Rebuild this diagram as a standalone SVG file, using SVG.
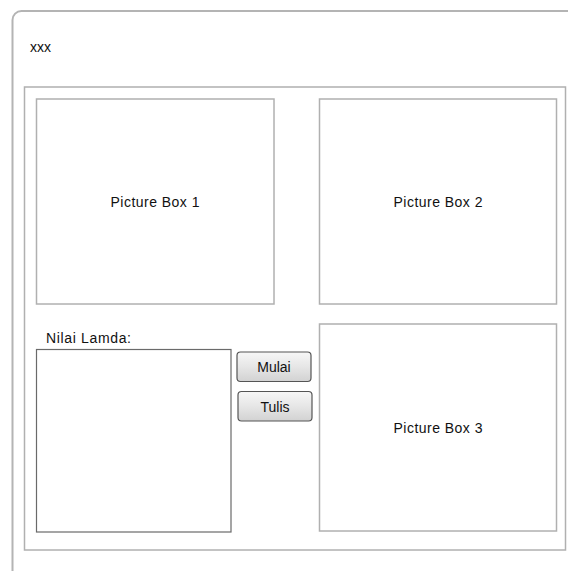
<svg xmlns="http://www.w3.org/2000/svg" width="568" height="571" viewBox="0 0 568 571">
  <defs>
    <linearGradient id="btnFill" x1="0" y1="0" x2="0" y2="1">
      <stop offset="0" stop-color="#f7f7f7"/>
      <stop offset="0.5" stop-color="#e6e6e6"/>
      <stop offset="1" stop-color="#d2d2d2"/>
    </linearGradient>
  </defs>
  <style>
    text { font-family: "Liberation Sans", Arial, sans-serif; font-size: 14px; fill: #111; }
    .mid { text-anchor: middle; }
    .frame { fill: #fff; stroke: #b4b4b4; stroke-width: 2; }
    .box { fill: #fff; stroke: #b0b0b0; stroke-width: 1.5; }
    .field { fill: #fff; stroke: #6a6a6a; stroke-width: 1.2; }
    .btn { fill: url(#btnFill); stroke: #555; stroke-width: 1.2; }
  </style>
  <rect width="568" height="571" fill="#fff"/>

  <!-- window -->
  <g id="window">
    <rect class="frame" x="12.5" y="11" width="580" height="590" rx="9"/>
    <text x="30" y="52">xxx</text>
  </g>

  <!-- content panel -->
  <g id="panel">
    <rect class="box" x="24.5" y="87" width="541" height="463"/>
  </g>

  <g id="picture-box-1">
    <rect class="box" x="36.5" y="99" width="237.5" height="205"/>
    <text class="mid" x="155" y="207" textLength="89">Picture Box 1</text>
  </g>

  <g id="picture-box-2">
    <rect class="box" x="319.5" y="99" width="237" height="205"/>
    <text class="mid" x="438" y="207" textLength="89">Picture Box 2</text>
  </g>

  <g id="picture-box-3">
    <rect class="box" x="319.5" y="324" width="237" height="207"/>
    <text class="mid" x="438" y="433" textLength="89">Picture Box 3</text>
  </g>

  <g id="lamda-input">
    <text x="46" y="343" textLength="85">Nilai Lamda:</text>
    <rect class="field" x="36.5" y="349.5" width="194.5" height="182.5"/>
  </g>

  <g id="btn-mulai">
    <rect class="btn" x="237" y="352" width="74" height="29.5" rx="3.5"/>
    <text class="mid" x="274" y="372">Mulai</text>
  </g>

  <g id="btn-tulis">
    <rect class="btn" x="238" y="391.5" width="74" height="29.5" rx="3.5"/>
    <text class="mid" x="275" y="412">Tulis</text>
  </g>

  <g id="connectors"/>
</svg>
